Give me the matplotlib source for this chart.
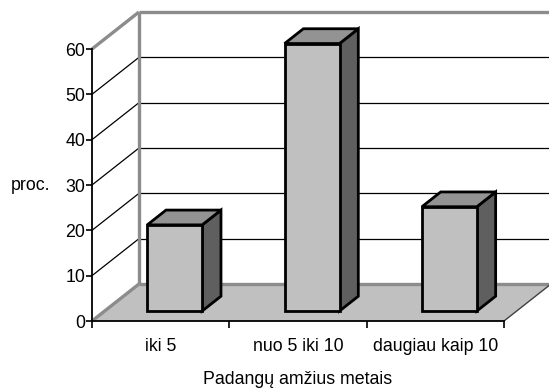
import matplotlib
matplotlib.use("Agg")
import matplotlib.pyplot as plt
from matplotlib.patches import Polygon
from matplotlib.ticker import FixedLocator, NullFormatter, FixedFormatter

plt.rcParams['font.family'] = ['Liberation Sans', 'DejaVu Sans']

categories = ['iki 5', 'nuo 5 iki 10', 'daugiau kaip 10']
values = [19, 59, 23]
y_ticks = [0, 10, 20, 30, 40, 50, 60]
x_title = 'Padangų amžius metais'
y_title = 'proc.'

# 3-D look: oblique offset of the full depth, in data units
DX, DY = 0.342, 8.16
YMAX = 60
FS = 12.8

def P(x, y, d):
    """Project a point (category x, value y, depth d in 0..1) onto the axes."""
    return (x + d * DX, y + d * DY)

fig = plt.figure(figsize=(5.49, 3.89), dpi=100)
fig.patch.set_facecolor('white')
ax = fig.add_axes([92 / 549, 68 / 389, 412 / 549, 272 / 389])
ax.set_xlim(0, len(categories))
ax.set_ylim(0, YMAX)
ax.patch.set_alpha(0)

n = len(categories)
wall_edge = '#8c8c8c'

def poly(pts, fc, ec='none', lw=0, z=1):
    ax.add_patch(Polygon(pts, closed=True, facecolor=fc, edgecolor=ec,
                         linewidth=lw, zorder=z, clip_on=False,
                         joinstyle='miter'))

def line(a, b, color, lw, z=2):
    ax.plot([a[0], b[0]], [a[1], b[1]], color=color, lw=lw, zorder=z,
            clip_on=False, solid_capstyle='butt')

# floor
poly([P(0, 0, 0), P(n, 0, 0), P(n, 0, 1), P(0, 0, 1)], '#c0c0c0', z=1)

# gridlines on back and left walls
for v in y_ticks[1:-1]:
    line(P(0, v, 1), P(n, v, 1), 'black', 0.9, z=2)
    line(P(0, v, 0), P(0, v, 1), 'black', 0.9, z=2)

# wall borders
line(P(0, YMAX, 1), P(n, YMAX, 1), wall_edge, 2.4, z=3)
line(P(0, 0, 1), P(0, YMAX, 1), wall_edge, 2.4, z=3)
line(P(0, YMAX, 0), P(0, YMAX, 1), wall_edge, 2.4, z=3)
line(P(0, 0, 0), P(0, 0, 1), wall_edge, 2.4, z=3)
line(P(0, 0, 1), P(n, 0, 1), wall_edge, 2.4, z=3)
line(P(n, 0, 0), P(n, 0, 1), '#404040', 1.0, z=3)

# bars
x0, w = 0.31, 0.40
d0, d1 = 0.27, 0.67
for i, v in enumerate(values):
    xl, xr = i + x0, i + x0 + w
    front = [P(xl, 0, d0), P(xr, 0, d0), P(xr, v, d0), P(xl, v, d0)]
    side = [P(xr, 0, d0), P(xr, 0, d1), P(xr, v, d1), P(xr, v, d0)]
    top = [P(xl, v, d0), P(xr, v, d0), P(xr, v, d1), P(xl, v, d1)]
    poly(side, '#5f5f5f', 'black', 2.0, z=5)
    poly(top, '#939393', 'black', 2.0, z=5)
    poly(front, '#c0c0c0', 'black', 2.0, z=6)

# axes and ticks
for s in ('top', 'right'):
    ax.spines[s].set_visible(False)
for s in ('left', 'bottom'):
    ax.spines[s].set_color('black')
    ax.spines[s].set_linewidth(1.3)
    ax.spines[s].set_zorder(4)

ax.yaxis.set_major_locator(FixedLocator(y_ticks))
ax.tick_params(axis='y', direction='out', length=4.5, width=1.2, pad=0.5,
               labelsize=FS)
ax.xaxis.set_major_locator(FixedLocator(list(range(n + 1))))
ax.xaxis.set_major_formatter(NullFormatter())
ax.xaxis.set_minor_locator(FixedLocator([i + 0.5 for i in range(n)]))
ax.xaxis.set_minor_formatter(FixedFormatter(categories))
ax.tick_params(axis='x', which='major', direction='out', length=5, width=1.2)
ax.tick_params(axis='x', which='minor', length=0, pad=12, labelsize=FS)

ax.set_xlabel(x_title, fontsize=FS, labelpad=11.5)
ax.set_ylabel(y_title, rotation=0, ha='right', va='center', fontsize=FS)
ax.yaxis.set_label_coords(-0.102, 0.5)

fig.savefig('out.png', dpi=100)
